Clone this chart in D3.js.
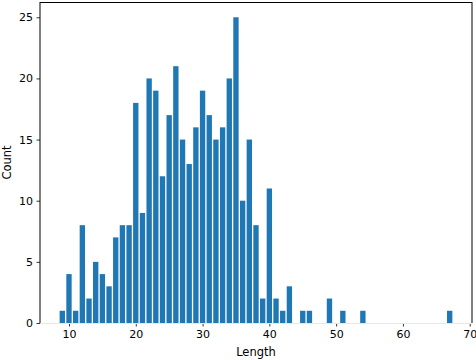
<!DOCTYPE html>
<html>
<head>
<meta charset="utf-8">
<script src="https://cdn.jsdelivr.net/npm/d3@7"></script>
<style>
  body { margin: 0; background: #fff; }
  text { font-family: "DejaVu Sans", sans-serif; }
</style>
</head>
<body>
<div id="chart"></div>
<script>
// length values and how many times each appears
var lengths = [9, 10, 11, 12, 13, 14, 15, 16, 17, 18, 19, 20, 21, 22, 23, 24, 25, 26, 27, 28, 29, 30,
               31, 32, 33, 34, 35, 36, 37, 38, 39, 40, 41, 42, 43, 45, 46, 49, 51, 54, 67];
var counts  = [1, 4, 1, 8, 2, 5, 4, 3, 7, 8, 8, 18, 9, 20, 19, 12, 17, 21, 15, 13, 16, 19,
               17, 15, 16, 20, 25, 10, 15, 8, 2, 11, 2, 1, 3, 1, 1, 2, 1, 1, 1];
var xTicks = [10, 20, 30, 40, 50, 60, 70];
var yTicks = [0, 5, 10, 15, 20, 25];

var data = lengths.map(function(d, i) { return {len: d, n: counts[i]}; });

var all_width = 476, all_height = 360;
var margin = {top: 2, right: 4, bottom: 37, left: 40},
    width = all_width - margin.left - margin.right,
    height = all_height - margin.top - margin.bottom;

var svg = d3.select("#chart")
  .append("svg")
    .attr("width", all_width)
    .attr("height", all_height)
  .append("g")
    .attr("transform", "translate(" + margin.left + "," + margin.top + ")");

// matplotlib style: bar width 0.8, 5% margin each side
var barW = 0.8;
var lo = d3.min(lengths) - barW / 2, hi = d3.max(lengths) + barW / 2;
var pad = (hi - lo) * 0.05;
var x = d3.scaleLinear().domain([lo - pad, hi + pad]).range([0, width]);
var y = d3.scaleLinear().domain([0, d3.max(counts) * 1.05]).range([height, 0]);

svg.selectAll("rect.bar")
  .data(data)
  .enter()
  .append("rect")
    .attr("class", "bar")
    .attr("x", function(d) { return x(d.len - barW / 2); })
    .attr("width", function(d) { return x(d.len + barW / 2) - x(d.len - barW / 2); })
    .attr("y", function(d) { return y(d.n); })
    .attr("height", function(d) { return y(0) - y(d.n); })
    .style("fill", "#1f77b4");

// axes
var xAxis = svg.append("g")
  .attr("transform", "translate(0," + height + ")")
  .call(d3.axisBottom(x).tickValues(xTicks).tickSize(3.5).tickPadding(3.5));
var yAxis = svg.append("g")
  .call(d3.axisLeft(y).tickValues(yTicks).tickSize(3.5).tickPadding(3.5));
[xAxis, yAxis].forEach(function(a) {
  a.select(".domain").remove();
  a.selectAll("text").style("font-family", "DejaVu Sans").style("font-size", "11px").attr("fill", "#000");
  a.selectAll("line").attr("stroke", "#000").attr("stroke-width", 0.8);
});

// frame
svg.append("line").attr("x1", 0).attr("x2", 0).attr("y1", 0).attr("y2", height)
  .attr("stroke", "#000").attr("stroke-width", 1);
svg.append("line").attr("x1", width).attr("x2", width).attr("y1", 0).attr("y2", height)
  .attr("stroke", "#000").attr("stroke-width", 1);
svg.append("line").attr("x1", 0).attr("x2", width).attr("y1", 0.5).attr("y2", 0.5)
  .attr("stroke", "#000").attr("stroke-width", 1);
svg.append("line").attr("x1", 0).attr("x2", width).attr("y1", height + 0.5).attr("y2", height + 0.5)
  .attr("stroke", "#e8e8e8").attr("stroke-width", 1);

// labels
svg.append("text")
  .attr("text-anchor", "middle")
  .attr("x", width / 2)
  .attr("y", height + 33)
  .style("font-size", "11.5px")
  .text("Length");

svg.append("text")
  .attr("text-anchor", "middle")
  .attr("transform", "rotate(-90)")
  .attr("x", -height / 2)
  .attr("y", -29.5)
  .style("font-size", "11.5px")
  .text("Count");
</script>
</body>
</html>
